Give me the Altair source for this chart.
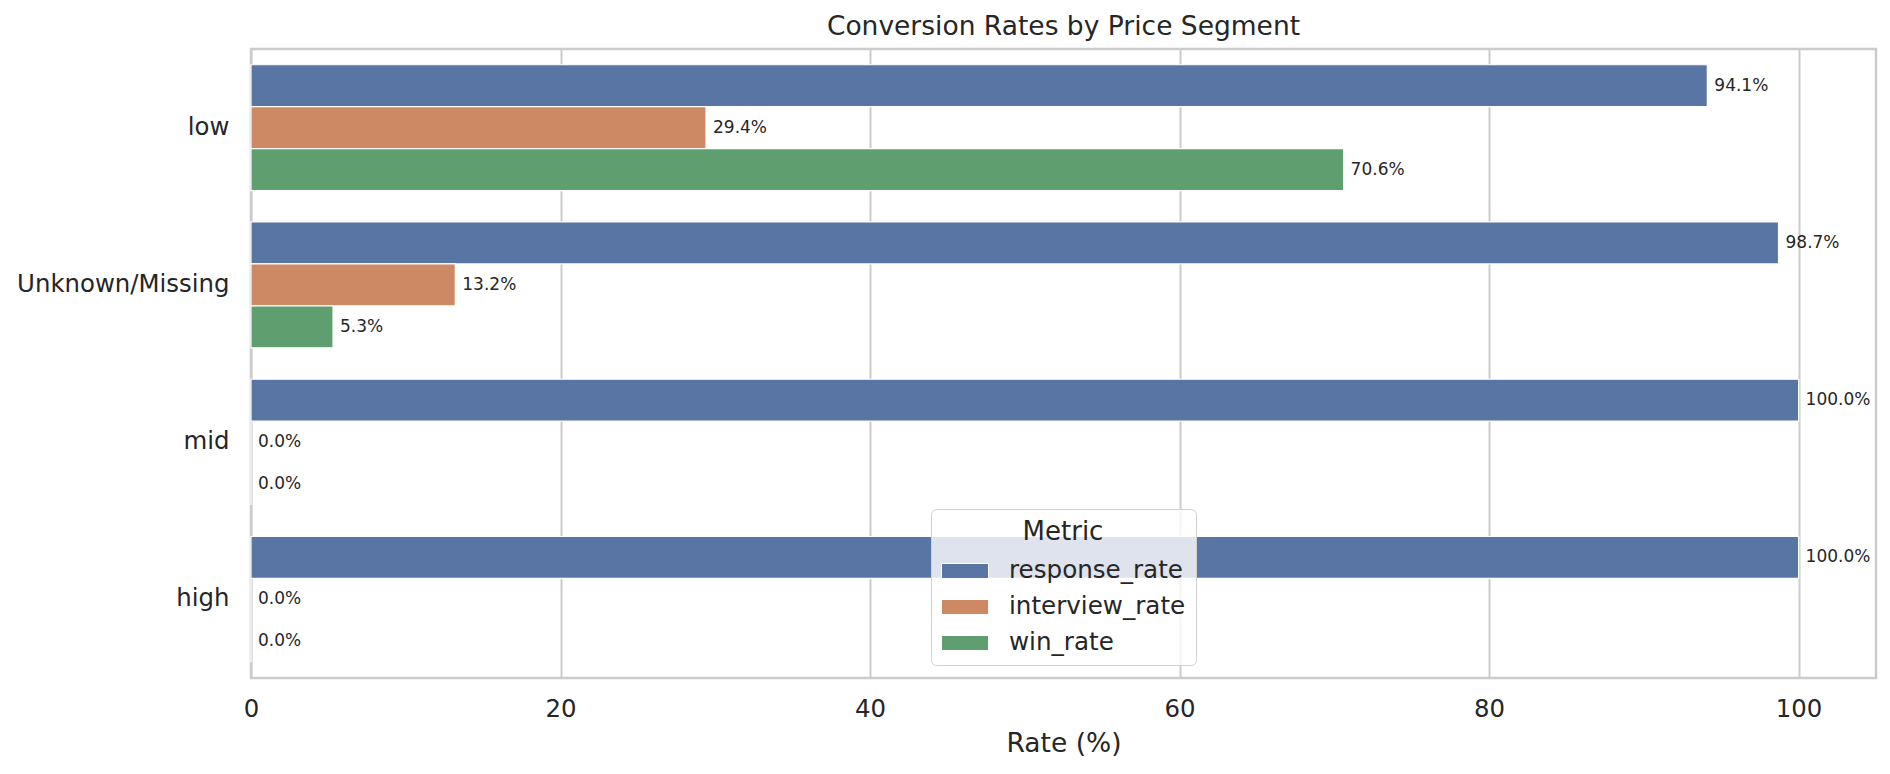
import altair as alt
import pandas as pd

# values
segments = ['low', 'Unknown/Missing', 'mid', 'high']
metrics = ['response_rate', 'interview_rate', 'win_rate']
response_rate = [94.1, 98.7, 100.0, 100.0]
interview_rate = [29.4, 13.2, 0.0, 0.0]
win_rate = [70.6, 5.3, 0.0, 0.0]
palette = ['#5975a4', '#cc8963', '#5f9e6e']
x_ticks = [0, 20, 40, 60, 80, 100]

FONT = 'DejaVu Sans'
TEXT = '#262626'
GRID = '#cccccc'

rows = []
for i, seg in enumerate(segments):
    for m, vals in zip(metrics, [response_rate, interview_rate, win_rate]):
        rows.append({'price_segment': seg, 'metric': m, 'rate': vals[i]})
df = pd.DataFrame(rows)

base = alt.Chart(df).transform_calculate(
    label="format(datum.rate, '.1f') + '%'"
).encode(
    y=alt.Y('price_segment:N', sort=segments,
            scale=alt.Scale(paddingInner=0.2, paddingOuter=0.1),
            axis=alt.Axis(title=None, grid=False, labelPadding=22)),
    yOffset=alt.YOffset('metric:N', sort=metrics),
    x=alt.X('rate:Q', scale=alt.Scale(domain=[0, 105], nice=False, zero=True),
            axis=alt.Axis(values=x_ticks, title='Rate (%)', grid=True,
                          labelPadding=19, titlePadding=10,
                          labelFlush=False, labelOverlap=False)),
)

bars = base.mark_bar(stroke='white', strokeWidth=1.2).encode(
    color=alt.Color('metric:N', sort=metrics,
                    scale=alt.Scale(domain=metrics, range=palette),
                    legend=alt.Legend(
                        title='Metric', orient='none', legendX=680, legendY=460,
                        titleAnchor='middle', titleFontSize=26, titleFont=FONT,
                        titleFontWeight='normal', titleColor=TEXT, titlePadding=2,
                        labelFontSize=24.6, labelFont=FONT, labelColor=TEXT,
                        labelLimit=0, labelOffset=20, rowPadding=-11, padding=10,
                        symbolType='M-1,-0.32H1V0.32H-1Z', symbolSize=2209,
                        symbolStrokeColor='white', symbolStrokeWidth=1,
                        symbolOpacity=1,
                        fillColor='rgba(255,255,255,0.8)', strokeColor='#d0d0d0',
                        cornerRadius=5)),
)

text = base.mark_text(align='left', baseline='middle', dx=7, fontSize=17,
                      font=FONT, color=TEXT).encode(
    text='label:N'
)

chart = (bars + text).properties(
    width=1625, height=629,
    padding={'left': 243, 'top': 41, 'right': 6, 'bottom': 88},
    autosize=alt.AutoSizeParams(type='none'),
    title=alt.TitleParams('Conversion Rates by Price Segment', fontSize=26.5,
                          font=FONT, fontWeight='normal', color=TEXT,
                          anchor='middle', offset=9),
).configure_view(
    stroke=GRID, strokeWidth=2.5
).configure_axis(
    domain=False, ticks=False, gridColor=GRID, gridWidth=2, labelLimit=0,
    labelFont=FONT, labelFontSize=24.4, labelColor=TEXT,
    titleFont=FONT, titleFontSize=26.5, titleColor=TEXT, titleFontWeight='normal'
)

chart.save('out.html', embed_options={'renderer': 'svg', 'actions': False})
